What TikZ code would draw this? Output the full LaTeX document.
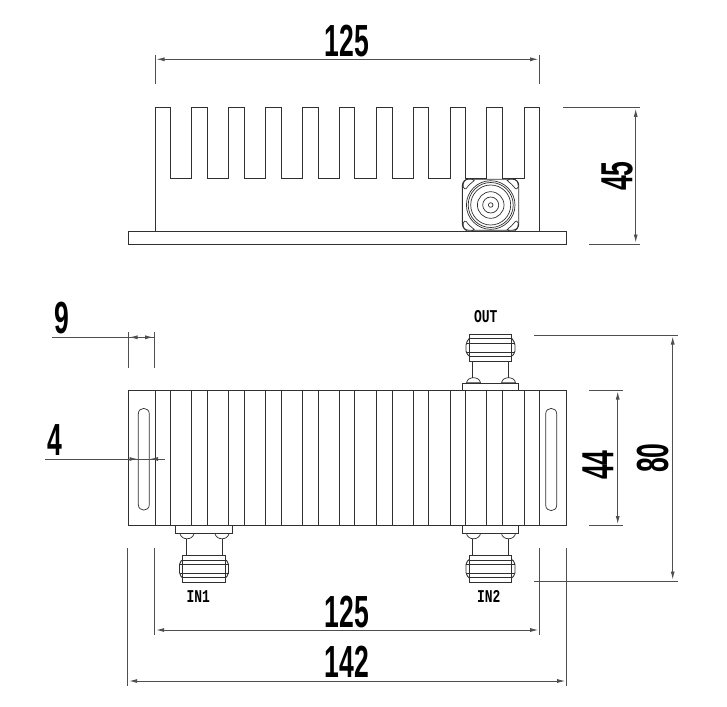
\documentclass[tikz,border=0pt]{standalone}
\usepackage{fontspec}
\setmainfont{Liberation Sans}
\newfontfamily\labelmono{Liberation Mono}[BoldFont={Liberation Mono Bold}]
\usetikzlibrary{arrows.meta}
\definecolor{lineink}{HTML}{303030}
\tikzset{
  x=1pt,y=-1pt,
  part/.style={draw=lineink,line width=0.9pt},
  thinpart/.style={draw=lineink,line width=0.7pt},
  dimline/.style={draw=lineink!85,line width=0.9pt},
  dimarrow/.style={dimline,shorten >=1.5pt,shorten <=1.5pt,{Latex[length=8pt,width=4pt]}-{Latex[length=8pt,width=4pt]}},
  inarrow/.style={dimline,-{Latex[length=8pt,width=4pt]}},
  dimtext/.style={font=\bfseries\fontsize{45}{45}\selectfont,xscale=0.59,transform shape,inner sep=0pt,text=black},
  dimtextv/.style={font=\bfseries\fontsize{45}{45}\selectfont,yscale=0.59,rotate=90,transform shape,inner sep=0pt,text=black},
  porttext/.style={font=\labelmono\bfseries\fontsize{18}{18}\selectfont,xscale=0.72,transform shape,inner sep=0pt,text=black},
}
\newcommand{\portup}[2]{% x centre, body y: connector going upward
  \begin{scope}[shift={(#1,#2)}]
    \draw[part] (-28.2,0) -- (-28.2,-6.7) -- (28.2,-6.7) -- (28.2,0);
    \draw[thinpart] (-24,-7.2) .. controls (-23,-14) and (-11,-14) .. (-10,-7.2) -- cycle;
    \draw[thinpart] (11,-7.2) .. controls (12,-14) and (24,-14) .. (25,-7.2) -- cycle;
    \draw[part] (-18,-12.5) -- (-18,-29) (18,-12.5) -- (18,-29);
    \draw[part] (-21.3,-29) rectangle (21.3,-55.3);
    \draw[part,rounded corners=2pt] (-21.3,-34) -- (-24.5,-37) -- (-24.5,-47) -- (-21.3,-51.5);
    \draw[part,rounded corners=2pt] (21.3,-34) -- (24.5,-37) -- (24.5,-47) -- (21.3,-51.5);
    \draw[part] (-21.3,-33.5) -- (21.3,-33.5) (-24.5,-38) -- (24.5,-38) (-24.5,-47) -- (24.5,-47) (-21.3,-51.5) -- (21.3,-51.5);
  \end{scope}}
\newcommand{\portdown}[2]{% x centre, body y: connector going downward
  \begin{scope}[shift={(#1,#2)}]
    \draw[part] (-28.2,0) -- (-28.2,7.5) -- (28.2,7.5) -- (28.2,0);
    \draw[thinpart] (-24,8) .. controls (-23,15) and (-11,15) .. (-10,8) -- cycle;
    \draw[thinpart] (11,8) .. controls (12,15) and (24,15) .. (25,8) -- cycle;
    \draw[part] (-18,13.5) -- (-18,30) (18,13.5) -- (18,30);
    \draw[part] (-21.3,30) rectangle (21.3,56.5);
    \draw[part,rounded corners=2pt] (-21.3,34) -- (-24.5,37) -- (-24.5,49) -- (-21.3,52.5);
    \draw[part,rounded corners=2pt] (21.3,34) -- (24.5,37) -- (24.5,49) -- (21.3,52.5);
    \draw[part] (-21.3,34.5) -- (21.3,34.5) (-24.5,38.5) -- (24.5,38.5) (-24.5,48) -- (24.5,48) (-21.3,52) -- (21.3,52);
  \end{scope}}
\begin{document}
\begin{tikzpicture}
\useasboundingbox[fill=white] (0,0) rectangle (727,706);
% ---- top view: fins and plate
\draw[part] (155,231) -- (155,107) -- (170.3,107) -- (170.3,178.3)
  -- (191.7,178.3) -- (191.7,107) -- (207.7,107) -- (207.7,178.3)
  -- (228.7,178.3) -- (228.7,107) -- (244.7,107) -- (244.7,178.3)
  -- (265.7,178.3) -- (265.7,107) -- (281.7,107) -- (281.7,178.3)
  -- (302.7,178.3) -- (302.7,107) -- (318.7,107) -- (318.7,178.3)
  -- (339.7,178.3) -- (339.7,107) -- (354.7,107) -- (354.7,178.3)
  -- (376.7,178.3) -- (376.7,107) -- (392,107) -- (392,178.3)
  -- (413.7,178.3) -- (413.7,107) -- (428.7,107) -- (428.7,178.3)
  -- (450.7,178.3) -- (450.7,107) -- (465.7,107) -- (465.7,178.3)
  -- (486.7,178.3) -- (486.7,107) -- (502.7,107) -- (502.7,178.3)
  -- (524,178.3) -- (524,107) -- (539.7,107) -- (539.7,231);
\draw[part] (128,231) rectangle (566,244);
% ---- front connector
\begin{scope}[shift={(490.7,205)}]
  \draw[part,rounded corners=6pt,fill=white] (-28.3,-25.8) rectangle (28,25.2);
  \draw[thinpart] (0,0) circle[radius=2.3];
  \draw[thinpart] (0,0) circle[radius=8];
  \draw[thinpart] (0,0) circle[radius=13.3];
  \draw[thinpart] (0,0) circle[radius=20];
  \draw[thinpart] (0,0) circle[radius=22.5];
  \draw[thinpart] (0,0) circle[radius=24.3];
  \foreach \sx/\sy in {1/1,-1/1,1/-1,-1/-1}{
    \draw[thinpart,xscale=\sx,yscale=\sy] (24.5,16.5) .. controls (22,20) and (19.5,22) .. (16.5,24.5) .. controls (20,28) and (28,28) .. (27.5,18) .. controls (27,16) and (25,15.5) .. (24.5,16.5);
  }
\end{scope}
% ---- plan view body
\draw[part] (128,390) rectangle (566.7,525.5);
\foreach \fx in {155,170.3,191.7,207.7,228.7,244.7,265.7,281.7,302.7,318.7,339.7,354.7,376.7,392,413.7,428.7,450.7,465.7,486.7,502.7,524,539.7}
  \draw[part] (\fx,390) -- (\fx,525.5);
\draw[thinpart] (138.3,414) .. controls (138.3,406.5) and (149.3,406.5) .. (149.3,414) -- (149.3,504.5) .. controls (149.3,512) and (138.3,512) .. (138.3,504.5) -- cycle;
\draw[thinpart] (545.7,414) .. controls (545.7,406.5) and (556.7,406.5) .. (556.7,414) -- (556.7,505) .. controls (556.7,512.5) and (545.7,512.5) .. (545.7,505) -- cycle;
\portup{490.5}{390}
\portdown{204}{525.5}
\portdown{490.5}{525.5}
\node[porttext] (outlabel) at (485.7,316.7) {OUT};
\node[porttext] (inonelabel) at (198.3,596.7) {IN1};
\node[porttext] (intwolabel) at (488.7,596.7) {IN2};
% ---- dimensions
\draw[dimline] (155,55) -- (155,84) (539.7,55) -- (539.7,84);
\draw[dimarrow] (155,59.3) -- (539.7,59.3);
\node[dimtext] (dimA) at (347,41) {125};
\draw[dimline] (563,107.3) -- (640,107.3) (589,244) -- (640,244);
\draw[dimarrow] (635.7,107.3) -- (635.7,244);
\node[dimtextv] (dimB) at (617,176) {45};
\draw[dimline] (128,332) -- (128,368) (154.7,332) -- (154.7,368);
\draw[dimline] (52,337.3) -- (154.7,337.3);
\draw[dimarrow] (128,337.3) -- (154.7,337.3);
\node[dimtext] (dimC) at (61.7,318) {9};
\draw[dimline] (45,459) -- (165,459);
\draw[inarrow] (128,459) -- (137.5,459);
\draw[inarrow] (160,459) -- (150,459);
\node[dimtext] (dimD) at (55,440.5) {4};
\draw[dimline] (534,335) -- (678,335) (534,581) -- (678,581);
\draw[dimarrow] (672.7,335) -- (672.7,581);
\node[dimtextv] (dimE) at (652.7,458) {80};
\draw[dimline] (589,390) -- (623,390) (589,525.5) -- (623,525.5);
\draw[dimarrow] (617.7,390) -- (617.7,525.5);
\node[dimtextv] (dimF) at (598,465) {44};
\draw[dimline] (154.7,548) -- (154.7,635) (539.7,548) -- (539.7,635);
\draw[dimarrow] (154.7,630) -- (539.7,630);
\node[dimtext] (dimG) at (347,612) {125};
\draw[dimline] (127.7,548) -- (127.7,686) (566.7,548) -- (566.7,686);
\draw[dimarrow] (127.7,681) -- (566.7,681);
\node[dimtext] (dimH) at (347,662) {142};
\end{tikzpicture}
\end{document}
